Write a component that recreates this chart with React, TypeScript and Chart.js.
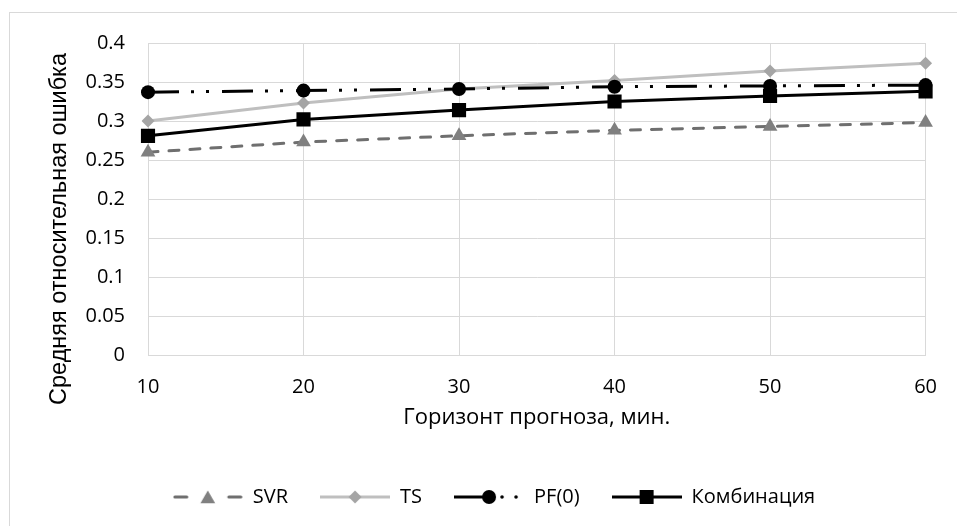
import React, { useEffect, useRef } from "react";
import { Chart, registerables } from "chart.js";

Chart.register(...registerables);

// ---- data ----
const categories = ["10", "20", "30", "40", "50", "60"];
const svrValues = [0.26, 0.273, 0.281, 0.288, 0.293, 0.298];
const tsValues = [0.3, 0.323, 0.341, 0.352, 0.364, 0.374];
const pfValues = [0.337, 0.339, 0.341, 0.344, 0.345, 0.346];
const comboValues = [0.281, 0.302, 0.314, 0.325, 0.332, 0.338];
const seriesNames = ["SVR", "TS", "PF(0)", "Комбинация"];
const yTickValues = [0, 0.05, 0.1, 0.15, 0.2, 0.25, 0.3, 0.35, 0.4];
const xTitle = "Горизонт прогноза, мин.";
const yTitle = "Средняя относительная ошибка";

const FONT = "'Open Sans', sans-serif";
const TICK_SIZE = 20;
const GRID = "#d9d9d9";

function drawMarker(ctx: CanvasRenderingContext2D, kind: string, x: number, y: number) {
  ctx.beginPath();
  if (kind === "triangle") {
    const r = 8.5;
    ctx.fillStyle = "#808080";
    ctx.moveTo(x, y - r);
    ctx.lineTo(x + r * Math.sin((2 * Math.PI) / 3), y - r * Math.cos((2 * Math.PI) / 3));
    ctx.lineTo(x + r * Math.sin((4 * Math.PI) / 3), y - r * Math.cos((4 * Math.PI) / 3));
    ctx.closePath();
  } else if (kind === "diamond") {
    const r = 6.5;
    ctx.fillStyle = "#a5a5a5";
    ctx.moveTo(x, y - r);
    ctx.lineTo(x + r, y);
    ctx.lineTo(x, y + r);
    ctx.lineTo(x - r, y);
    ctx.closePath();
  } else if (kind === "circle") {
    ctx.fillStyle = "#000";
    ctx.arc(x, y, 7, 0, Math.PI * 2);
  } else {
    ctx.fillStyle = "#000";
    ctx.rect(x - 7, y - 7, 14, 14);
  }
  ctx.fill();
}

function makeIcon(index: number): HTMLCanvasElement {
  const c = document.createElement("canvas");
  c.width = 70;
  c.height = 22;
  const ctx = c.getContext("2d")!;
  const cy = 11;
  ctx.lineWidth = 3;
  if (index === 0) {
    ctx.strokeStyle = "#6f6f6f";
    ctx.lineCap = "round";
    ctx.beginPath();
    ctx.moveTo(2, cy);
    ctx.lineTo(14, cy);
    ctx.moveTo(56, cy);
    ctx.lineTo(68, cy);
    ctx.stroke();
    drawMarker(ctx, "triangle", 35, cy + 2);
  } else if (index === 1) {
    ctx.strokeStyle = "#bfbfbf";
    ctx.beginPath();
    ctx.moveTo(0, cy);
    ctx.lineTo(70, cy);
    ctx.stroke();
    drawMarker(ctx, "diamond", 35, cy);
  } else if (index === 2) {
    ctx.strokeStyle = "#000";
    ctx.beginPath();
    ctx.moveTo(0, cy);
    ctx.lineTo(35, cy);
    ctx.stroke();
    drawMarker(ctx, "circle", 35, cy);
    ctx.fillStyle = "#000";
    ctx.beginPath();
    ctx.arc(48, cy, 1.8, 0, Math.PI * 2);
    ctx.arc(62, cy, 1.8, 0, Math.PI * 2);
    ctx.fill();
  } else {
    ctx.strokeStyle = "#000";
    ctx.beginPath();
    ctx.moveTo(0, cy);
    ctx.lineTo(70, cy);
    ctx.stroke();
    drawMarker(ctx, "square", 35, cy);
  }
  return c;
}

const frame = {
  id: "frame",
  beforeDraw(chart: any) {
    const ctx = chart.ctx;
    ctx.save();
    ctx.fillStyle = "#fff";
    ctx.fillRect(0, 0, chart.width, chart.height);
    ctx.strokeStyle = GRID;
    ctx.lineWidth = 1;
    ctx.strokeRect(9.5, 12.5, 2000, 2000);
    ctx.restore();
  },
};

const yTitlePlugin = {
  id: "yTitle",
  afterDraw(chart: any) {
    const ctx = chart.ctx;
    const area = chart.chartArea;
    ctx.save();
    ctx.translate(66, (area.top + area.bottom) / 2 + 30);
    ctx.rotate(-Math.PI / 2);
    ctx.font = "23.5px 'Liberation Sans', Arial, sans-serif";
    ctx.fillStyle = "#000";
    ctx.textAlign = "center";
    ctx.textBaseline = "alphabetic";
    ctx.fillText(yTitle, 0, 0);
    ctx.restore();
  },
};

export default function App() {
  const ref = useRef<HTMLCanvasElement | null>(null);

  useEffect(() => {
    if (!ref.current) return;
    const icons = [0, 1, 2, 3].map(makeIcon);
    const base = {
      fill: false,
      borderWidth: 3,
      pointBorderWidth: 0,
      tension: 0,
    };
    const chart = new Chart(ref.current, {
      type: "line",
      data: {
        labels: categories,
        datasets: [
          {
            ...base,
            label: seriesNames[0],
            data: svrValues,
            borderColor: "#6f6f6f",
            backgroundColor: "#808080",
            borderDash: [10, 11],
            borderCapStyle: "round",
            pointStyle: "triangle",
            pointRadius: 8.5,
            pointBackgroundColor: "#808080",
            order: 4,
          },
          {
            ...base,
            label: seriesNames[1],
            data: tsValues,
            borderColor: "#bfbfbf",
            backgroundColor: "#a5a5a5",
            pointStyle: "rectRot",
            pointRadius: 6.5,
            pointBackgroundColor: "#a5a5a5",
            order: 3,
          },
          {
            ...base,
            label: seriesNames[2],
            data: pfValues,
            borderColor: "#000",
            backgroundColor: "#000",
            borderDash: [31, 12, 3, 12, 3, 13],
            pointStyle: "circle",
            pointRadius: 7,
            pointBackgroundColor: "#000",
            order: 2,
          },
          {
            ...base,
            label: seriesNames[3],
            data: comboValues,
            borderColor: "#000",
            backgroundColor: "#000",
            pointStyle: "rect",
            pointRadius: 10,
            pointBackgroundColor: "#000",
            order: 1,
          },
        ],
      },
      options: {
        responsive: false,
        animation: false,
        devicePixelRatio: 1,
        layout: { padding: { left: 60, right: 29, top: 43, bottom: 9 } },
        scales: {
          x: {
            type: "category",
            offset: false,
            grid: { color: GRID, lineWidth: 1, drawTicks: false },
            border: { color: GRID, width: 1 },
            ticks: {
              color: "#000",
              padding: 20,
              font: { family: FONT, size: TICK_SIZE },
              maxRotation: 0,
            },
            title: {
              display: true,
              text: xTitle,
              color: "#000",
              font: { family: FONT, size: 22 },
              padding: { top: 0, bottom: 24 },
            },
            afterFit(scale: any) {
              scale.height = 100;
            },
          },
          y: {
            min: 0,
            max: 0.4,
            grid: { color: GRID, lineWidth: 1, drawTicks: false },
            border: { color: GRID, width: 1 },
            ticks: {
              color: "#000",
              padding: 23,
              font: { family: FONT, size: TICK_SIZE },
              stepSize: 0.05,
              callback: (v: any) => {
                const t = yTickValues.find((y) => Math.abs(y - Number(v)) < 1e-9);
                return t === undefined ? "" : String(t);
              },
            },
            afterFit(scale: any) {
              scale.width = 88;
            },
          },
        },
        plugins: {
          tooltip: { enabled: false },
          legend: {
            position: "bottom",
            labels: {
              usePointStyle: true,
              pointStyleWidth: 70,
              padding: 32,
              color: "#000",
              font: { family: FONT, size: 20 },
              sort: (a: any, b: any) => a.datasetIndex - b.datasetIndex,
              generateLabels: (ch: any) =>
                (Chart.defaults.plugins.legend.labels.generateLabels as any)(ch).map((l: any) => ({
                  ...l,
                  pointStyle: icons[l.datasetIndex],
                  fontColor: "#000",
                })),
            },
          },
        },
      },
      plugins: [frame, yTitlePlugin],
    } as any);
    return () => chart.destroy();
  }, []);

  return (
    <div style={{ position: "absolute", left: 0, top: 0, width: 957, height: 526, background: "#fff" }}>
      <canvas ref={ref} width={957} height={526} style={{ width: 957, height: 526, display: "block" }} />
    </div>
  );
}
